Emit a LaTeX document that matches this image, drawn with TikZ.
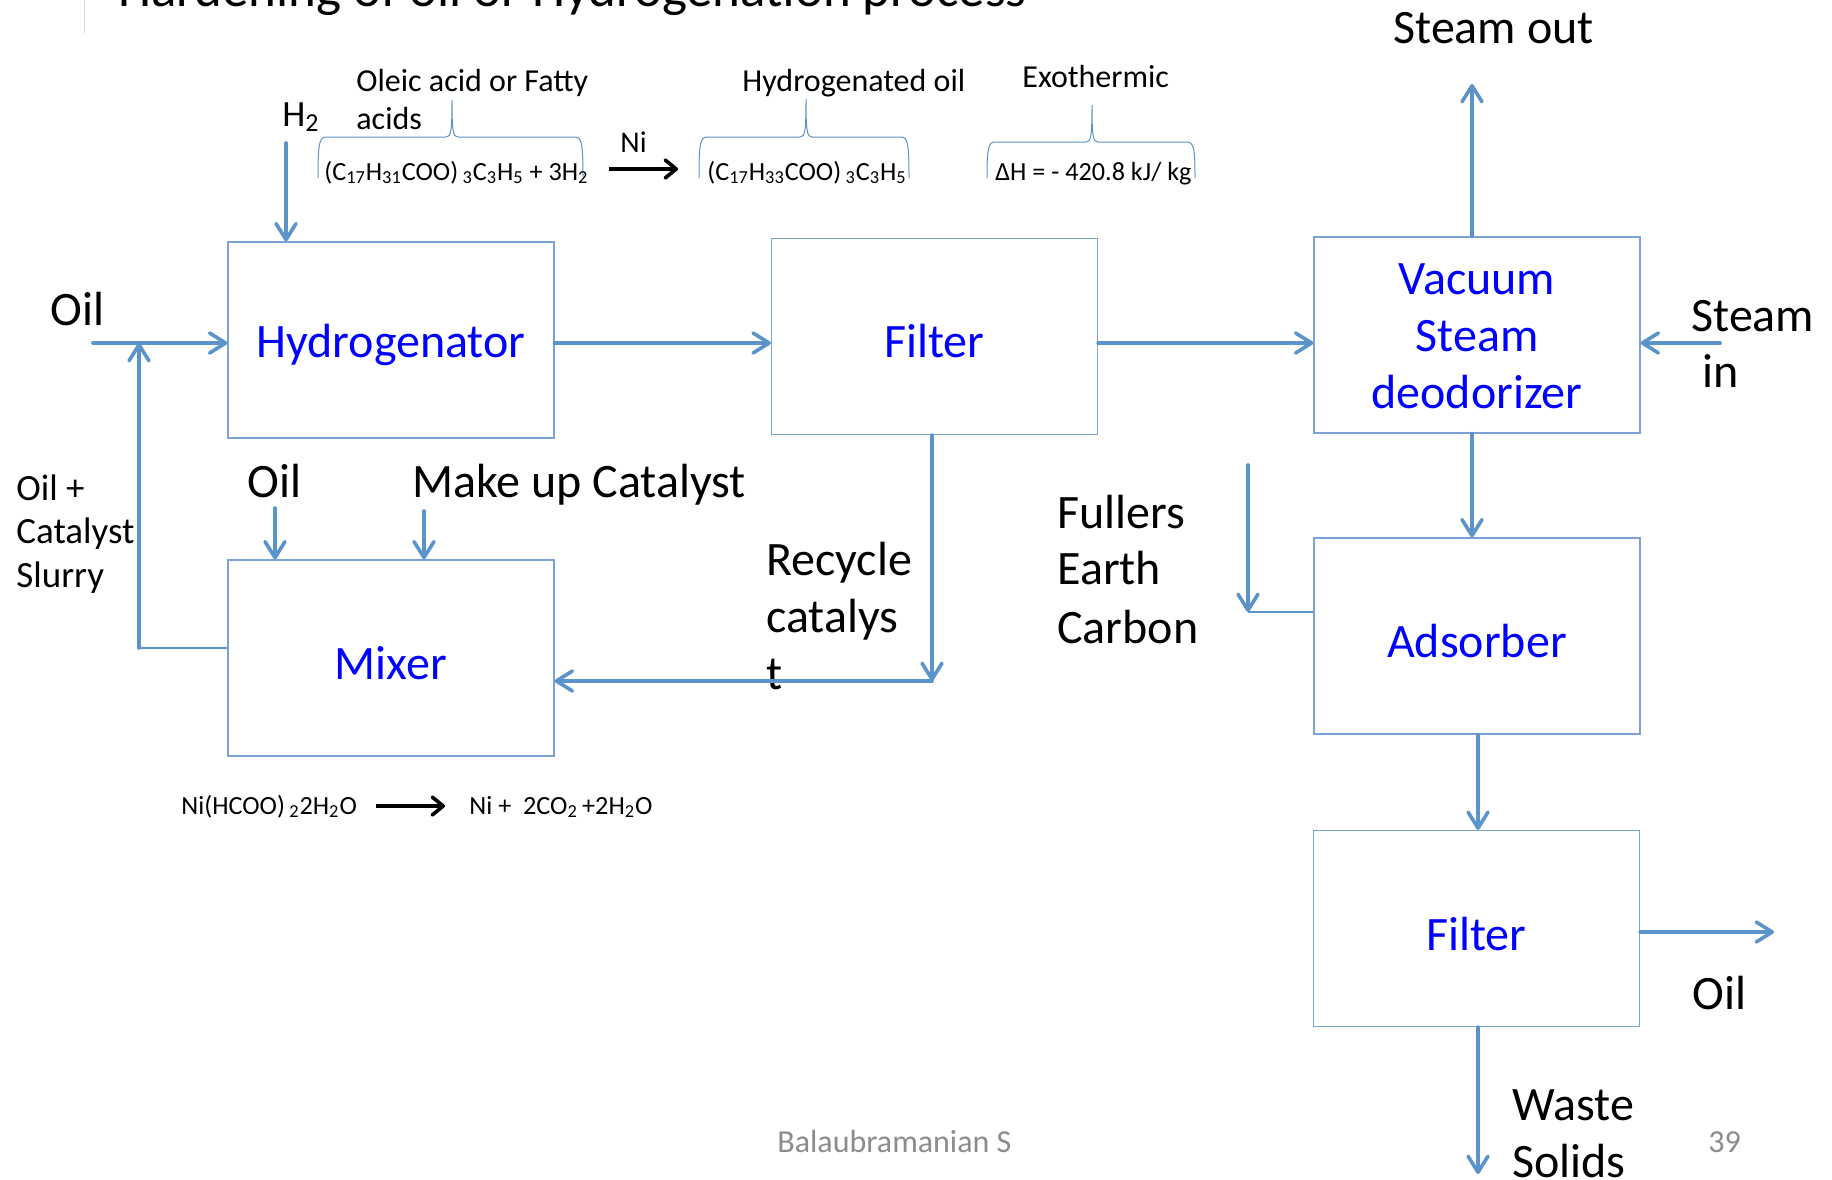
\documentclass[tikz,border=0pt]{standalone}
\usepackage{fontspec}
\setmainfont{Carlito}
\usetikzlibrary{arrows.meta}
\definecolor{arrowblue}{HTML}{5B93CB}
\definecolor{boxblue}{HTML}{7BA3D6}
\definecolor{footgrey}{HTML}{8C8C8C}
\newcommand{\sbs}[1]{\textsubscript{#1}}
\newcommand{\dnshift}[1]{\raisebox{-2.5pt}[\height][\depth]{#1}}
\newcommand{\brc}[6]{%
 \draw[bracestyle] (#1,#6) .. controls (#1,#4+8) and (#1+1,#4) .. (#1+8,#4) -- (#2-6,#4)
   .. controls (#2-1,#4) and (#2,#4-6) .. (#2,#5)
   .. controls (#2,#4-6) and (#2+1,#4) .. (#2+6,#4) -- (#3-8,#4)
   .. controls (#3-1,#4) and (#3,#4+8) .. (#3,#6);}
\tikzset{
 box/.style={draw=boxblue, line width=0.6pt, fill=white, minimum width=163pt, minimum height=98pt,
   inner sep=0pt, text=blue, font=\fontsize{24}{28.6}\selectfont},
 flow/.style={draw=arrowblue, line width=1.8pt, line cap=round,
   -{Straight Barb[length=8pt,width=10pt,round]}},
 thinflow/.style={draw=arrowblue, line width=0.8pt},
 rxn/.style={draw=black, line width=1.8pt, -{Straight Barb[length=5.5pt,width=9pt,round]}},
 bracestyle/.style={draw=arrowblue, line width=0.5pt},
 lab/.style={anchor=base west, inner sep=0pt, font=\fontsize{24}{28}\selectfont},
 mid/.style={anchor=base west, inner sep=0pt, font=\fontsize{18.5}{22}\selectfont},
 small/.style={anchor=base west, inner sep=0pt, font=\fontsize{16}{19}\selectfont},
 eqn/.style={anchor=base west, inner sep=0pt, font=\fontsize{13.1}{16}\selectfont},
 foot/.style={anchor=base west, inner sep=0pt, text=footgrey, font=\fontsize{16}{19}\selectfont}
}
\begin{document}
\begin{tikzpicture}[x=0.5pt,y=-0.5pt]
\useasboundingbox (0,0) rectangle (1832,1179);
\fill[white] (0,0) rectangle (1832,1179);
\clip (0,0) rectangle (1832,1179);

% title (cut off at top) and rule
\node[anchor=base west, inner sep=0pt, font=\fontsize{26.5}{30}\selectfont] (title) at (118,6) {Hardening of oil or Hydrogenation process};
\coordinate (rulea) at (84,0);
\coordinate (ruleb) at (84,33);
\draw[black!15, line width=0.5pt] (rulea) -- (ruleb);

% boxes
\node[box] (hyd) at (391,340) {\dnshift{Hydrogenator}};
\node[box] (filt) at (934.5,336.5) {\dnshift{Filter}};
\node[box] (vsd) at (1477,335) {\dnshift{\begin{tabular}{@{}c@{}}Vacuum\\Steam\\deodorizer\end{tabular}}};
\node[box] (mix) at (391,658) {\dnshift{Mixer}};
\node[box] (ads) at (1477,636) {\dnshift{Adsorber}};
\node[box] (filt2) at (1476.5,928.5) {\dnshift{Filter}};

% reaction annotations
\node[small] (oleic1) at (356,91) {Oleic acid or Fatty};
\node[small] (oleic2) at (356,129) {acids};
\node[small] (hoil) at (742,91) {Hydrogenated oil};
\node[small] (exo) at (1022,87) {Exothermic};
\brc{318}{452}{583}{137}{100}{178}
\brc{699}{806}{909}{137}{99}{178}
\brc{987}{1092}{1195}{142}{105}{178}
\node[eqn] (eq1) at (324,180) {(C\sbs{17}H\sbs{31}COO)\,\sbs{3}C\sbs{3}H\sbs{5} + 3H\sbs{2}};
\node[eqn] (eq2) at (707,180) {(C\sbs{17}H\sbs{33}COO)\,\sbs{3}C\sbs{3}H\sbs{5}};
\node[eqn] (eq3) at (995,180) {ΔH = - 420.8 kJ/ kg};
\node[anchor=base west, inner sep=0pt, font=\fontsize{15}{18}\selectfont] (ni) at (620,152) {Ni};
\coordinate (r1a) at (609,169);
\coordinate (r1b) at (678,169);
\draw[rxn] (r1a) -- (r1b);

\node[eqn] (eq4) at (181,814) {Ni(HCOO)\,\sbs{2}2H\sbs{2}O};
\node[eqn] (eq5) at (469,814) {Ni +\ \ 2CO\sbs{2}\,+2H\sbs{2}O};
\coordinate (r2a) at (376,806);
\coordinate (r2b) at (445,806);
\draw[rxn] (r2a) -- (r2b);

% labels
\node[mid] (h2) at (282,126) {H\sbs{2}};
\node[lab] (steamout) at (1393,43) {Steam out};
\node[lab] (oilL) at (50,325) {Oil};
\node[lab] (steam1) at (1691,331) {Steam};
\node[lab] (steam2) at (1702,387) {in};
\node[mid] (sl1) at (16,500) {Oil +};
\node[mid] (sl2) at (16,543) {Catalyst};
\node[mid] (sl3) at (16,587) {Slurry};
\node[lab] (oilM) at (247,497) {Oil};
\node[lab] (makeup) at (412,497) {Make up Catalyst};
\node[lab] (rec1) at (766,575) {Recycle};
\node[lab] (rec2) at (766,632) {catalys};
\node[lab] (rec3) at (766,689) {t};
\node[lab] (fe1) at (1057,528) {Fullers};
\node[lab] (fe2) at (1057,584) {Earth};
\node[lab] (fe3) at (1057,643) {Carbon};
\node[lab] (oilR) at (1692,1009) {Oil};
\node[lab] (ws1) at (1512,1120) {Waste};
\node[lab] (ws2) at (1512,1177) {Solids};
\node[foot] (author) at (777,1152) {Balaubramanian S};
\node[foot] (page) at (1708,1152) {39};

% connectors
\coordinate (h2a) at (286,143);
\draw[flow] (h2a) -- (h2a |- hyd.north);
\coordinate (oilin) at (93,343);
\draw[flow] (oilin) -- (oilin -| hyd.west);
\draw[flow] (hyd.east |- oilin) -- (filt.west |- oilin);
\draw[flow] (filt.east |- oilin) -- (vsd.west |- oilin);
\coordinate (steamin) at (1720,343);
\draw[flow] (steamin) -- (steamin -| vsd.east);
\coordinate (sout) at (1472,84);
\draw[flow] (sout |- vsd.north) -- (sout);
\draw[flow] (sout |- vsd.south) -- (sout |- ads.north);
\coordinate (fetop) at (1248,465);
\coordinate (fecorner) at (1248,612);
\draw[flow] (fetop) -- (fecorner);
\draw[thinflow] (fecorner) -- (fecorner -| ads.west);
\coordinate (af) at (1478,735);
\draw[flow] (af |- ads.south) -- (af |- filt2.north);
\coordinate (oilout) at (1774,932);
\draw[flow] (filt2.east |- oilout) -- (oilout);
\coordinate (waste) at (1478,1174);
\draw[flow] (waste |- filt2.south) -- (waste);
\coordinate (rc) at (932,681);
\draw[flow] (rc |- filt.south) -- (rc);
\draw[flow] (rc) -- (rc -| mix.east);
\coordinate (moil) at (275,508);
\draw[flow] (moil) -- (moil |- mix.north);
\coordinate (mcat) at (424,511);
\draw[flow] (mcat) -- (mcat |- mix.north);
\coordinate (lc) at (139,648);
\draw[thinflow] (lc -| mix.west) -- (lc);
\draw[flow] (lc) -- (lc |- oilin);
\end{tikzpicture}
\end{document}
